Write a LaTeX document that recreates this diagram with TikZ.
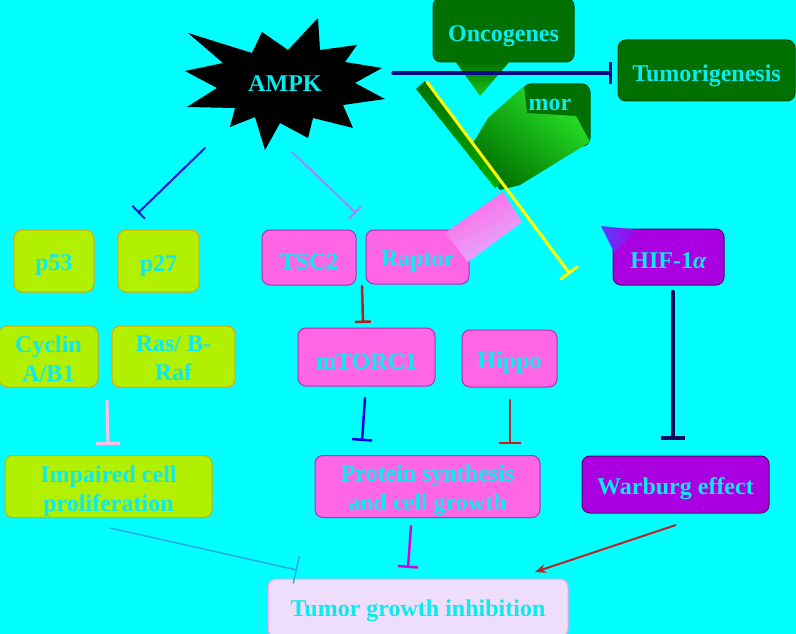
\documentclass[tikz,border=0pt]{standalone}
\usepackage{fontspec}
\setmainfont{Liberation Serif}
\usetikzlibrary{arrows.meta}
\definecolor{bgc}{RGB}{0,255,255}
\definecolor{txtc}{RGB}{10,235,240}
\definecolor{grn}{RGB}{0,112,0}
\definecolor{grnb}{RGB}{0,80,0}
\definecolor{lgrn}{RGB}{40,230,40}
\definecolor{midg}{RGB}{0,170,0}
\definecolor{limef}{RGB}{176,240,0}
\definecolor{limeb}{RGB}{215,170,0}
\definecolor{pinkf}{RGB}{255,102,230}
\definecolor{pinkb}{RGB}{170,50,170}
\definecolor{pinkt}{RGB}{225,175,255}
\definecolor{purf}{RGB}{170,0,225}
\definecolor{purb}{RGB}{90,0,120}
\definecolor{purt}{RGB}{90,60,255}
\definecolor{lavf}{RGB}{238,222,252}
\definecolor{lavb}{RGB}{255,150,235}
\definecolor{navyl}{RGB}{10,10,130}
\definecolor{bluea}{RGB}{20,20,220}
\definecolor{lilac}{RGB}{150,140,255}
\definecolor{dredl}{RGB}{180,30,30}
\definecolor{blueb}{RGB}{0,0,230}
\definecolor{redl}{RGB}{200,30,30}
\definecolor{pinkl}{RGB}{255,190,230}
\definecolor{ltblue}{RGB}{40,170,230}
\definecolor{magl}{RGB}{220,0,220}
\definecolor{hifnavy}{RGB}{10,10,90}
\definecolor{yell}{RGB}{255,255,0}
\begin{document}
\begin{tikzpicture}[x=1pt,y=-1pt,
  box/.style={rounded corners=8pt, line width=1pt, inner sep=0pt, anchor=center},
  txt/.style={text=txtc, font=\bfseries\fontsize{24}{29}\selectfont,
    align=center, inner sep=0pt, anchor=center},
  greenbox/.style={box, fill=grn, draw=grnb},
  limebox/.style={box, fill=limef, draw=limeb},
  pinkbox/.style={box, fill=pinkf, draw=pinkb},
  purbox/.style={box, fill=purf, draw=purb},
  lavbox/.style={box, fill=lavf, draw=lavb},
  inhib/.style={line cap=round},
]
\useasboundingbox (0,0) rectangle (796,634);
\fill[bgc] (0,0) rectangle (796,634);

% AMPK starburst
\fill[black] (318,18) -- (288,50) -- (262,32) -- (252,53) -- (188,33) -- (223,63)
  -- (185,71) -- (217,88) -- (187,107) -- (235,108) -- (230,127) -- (255,117)
  -- (265,150) -- (280,123) -- (308,138) -- (313,118) -- (353,128) -- (343,105)
  -- (385,99) -- (355,83) -- (382,68) -- (345,62) -- (357,45) -- (320,50) -- cycle;
\node[txt] (ampk) at (285,84) {AMPK};

% boxes
\node[greenbox, minimum width=141pt, minimum height=64pt] (onc) at (503.5,30) {};
\node[greenbox, minimum width=67pt, minimum height=62pt] (tum) at (556.5,115) {};
\node[greenbox, minimum width=177pt, minimum height=61pt] (tumg) at (706.5,70.5) {};

\node[limebox, minimum width=80pt, minimum height=62pt] (p53) at (54,261) {};
\node[limebox, minimum width=81pt, minimum height=62pt] (p27) at (158.5,261) {};
\node[limebox, minimum width=99pt, minimum height=61pt] (cyc) at (48.5,356.5) {};
\node[limebox, minimum width=123pt, minimum height=61pt] (ras) at (173.5,356.5) {};
\node[limebox, minimum width=207pt, minimum height=62pt] (imp) at (108.5,486.5) {};

\node[pinkbox, minimum width=94pt, minimum height=55pt] (tsc) at (309,257.5) {};
\node[pinkbox, minimum width=103pt, minimum height=54pt] (rap) at (417.5,257) {};
\node[pinkbox, minimum width=137pt, minimum height=58pt] (mtor) at (366.5,357) {};
\node[pinkbox, minimum width=95pt, minimum height=57pt] (hip) at (509.5,358.5) {};
\node[pinkbox, minimum width=225pt, minimum height=62pt] (prot) at (427.5,486.5) {};

\node[purbox, minimum width=111pt, minimum height=56pt] (hif) at (668.5,257) {};
\node[purbox, minimum width=187pt, minimum height=57pt] (war) at (675.5,484.5) {};

\node[lavbox, minimum width=300pt, minimum height=58pt] (tgi) at (418,608) {};

% callout tails
\shade[top color=grn, bottom color=lgrn!70!grn] (455,61) -- (510,61) -- (480,96) -- cycle;
\shade[left color=lgrn, right color=grn, shading angle=-40]
  (470,148) -- (488,118) -- (524,86) -- (527,113) -- (576,116) -- (590,142) -- (520,185) -- (500,190) -- cycle;
\shade[top color=grn, bottom color=midg] (416,89) -- (425,81) -- (503,181) -- (495,188) -- cycle;
\shade[left color=pinkf, right color=pinkt, shading angle=30]
  (445,233) -- (503,192) -- (522,222) -- (468,262) -- cycle;
\shade[left color=purt, right color=purf] (601,226) -- (640,230) -- (614,252) -- cycle;

% texts
\node[txt] (onct) at (503.5,36.5) {Oncogenes};
\node[txt] (tumt) at (550,104.5) {mor};
\node[txt] (tumgt) at (706.5,75.5) {Tumorigenesis};
\node[txt] (p53t) at (54,265.5) {p53};
\node[txt] (p27t) at (158.5,266) {p27};
\node[txt] (cyct) at (48.5,358.5) {Cyclin\\A/B1};
\node[txt] (rast) at (173.5,358) {Ras/ B-\\Raf};
\node[txt] (impt) at (108.5,491.5) {Impaired cell\\proliferation};
\node[txt] (tsct) at (309,261.5) {TSC2};
\node[txt] (rapt) at (417.5,261.5) {Raptor};
\node[txt] (mtort) at (366.5,361.5) {mTORC1};
\node[txt] (hipt) at (509.5,363) {Hippo};
\node[txt] (prott) at (427.5,490.5) {Protein synthesis\\and cell growth};
\node[txt] (hift) at (668.5,260.5) {HIF-1\textit{α}};
\node[txt] (wart) at (675.5,488.5) {Warburg effect};
\node[txt] (tgit) at (418,610.5) {Tumor growth inhibition};

% connector end points
\coordinate (a1) at (393,73);   \coordinate (a2) at (612,73);
\coordinate (b1) at (205,148);  \coordinate (b2) at (138,213);
\coordinate (c1) at (292,152);  \coordinate (c2) at (356,213);
\coordinate (y1) at (427,82);   \coordinate (y2) at (570,274);
\coordinate (d1) at (362,286);  \coordinate (d2) at (363,323);
\coordinate (e1) at (365,398);  \coordinate (e2) at (362,441);
\coordinate (f1) at (510,400);  \coordinate (f2) at (510,444);
\coordinate (g1) at (107,401);  \coordinate (g2) at (108,445);
\coordinate (h1) at (110,528);  \coordinate (h2) at (297,570);
\coordinate (i1) at (411,526);  \coordinate (i2) at (408,568);
\coordinate (j1) at (673,292);  \coordinate (j2) at (673,440);
\coordinate (k1) at (676,525);  \coordinate (k2) at (535,572);

% connectors
\draw[inhib, navyl, line width=3.5pt, -{Bar[width=22pt]}] (a1) -- (a2);
\draw[inhib, bluea, line width=2pt, -{Bar[width=18pt]}] (b1) -- (b2);
\draw[inhib, lilac, line width=2pt, -{Bar[width=18pt]}] (c1) -- (c2);
\draw[inhib, yell, line width=3pt, -{Bar[width=22pt]}] (y1) -- (y2);
\draw[inhib, dredl, line width=2.5pt, -{Bar[width=16pt]}] (d1) -- (d2);
\draw[inhib, blueb, line width=2.5pt, -{Bar[width=20pt]}] (e1) -- (e2);
\draw[inhib, redl, line width=2.5pt, -{Bar[width=22pt]}] (f1) -- (f2);
\draw[inhib, pinkl, line width=3pt, -{Bar[width=24pt]}] (g1) -- (g2);
\draw[inhib, ltblue, line width=1.5pt, -{Bar[width=28pt]}] (h1) -- (h2);
\draw[inhib, magl, line width=2.5pt, -{Bar[width=20pt]}] (i1) -- (i2);
\draw[inhib, hifnavy, line width=4.5pt, -{Bar[width=24pt]}] (j1) -- (j2);
\draw[redl, line width=2pt, -{Stealth[length=11pt,width=9pt]}] (k1) -- (k2);
\end{tikzpicture}
\end{document}
